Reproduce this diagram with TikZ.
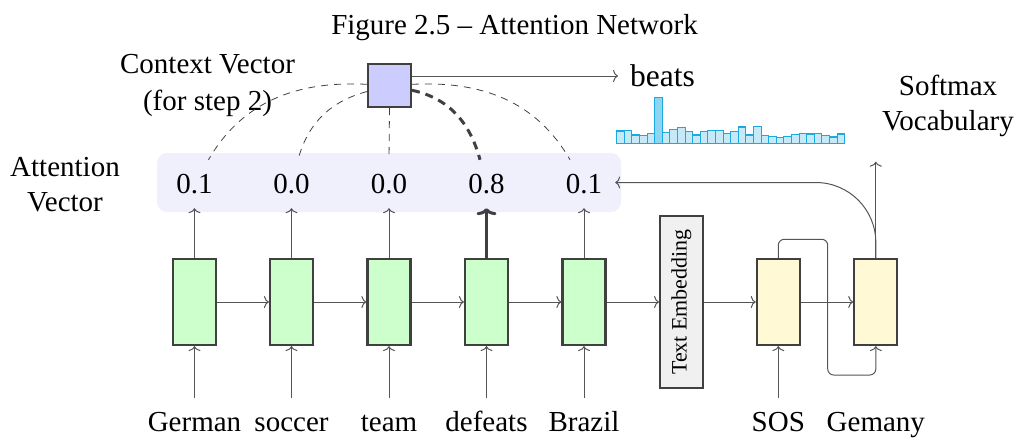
\documentclass[tikz,border=0pt]{standalone}
\usepackage{fontspec}
\usepackage{graphicx}
\setmainfont{Liberation Serif}
\usetikzlibrary{arrows.meta}

\definecolor{linegray}{HTML}{555555}
\definecolor{boxedge}{HTML}{404040}
\definecolor{encgreen}{HTML}{CCFFCC}
\definecolor{decyellow}{HTML}{FFF9D6}
\definecolor{ctxblue}{HTML}{CCCCFF}
\definecolor{attnbg}{HTML}{F0F0FD}
\definecolor{embgray}{HTML}{F0F0F0}
\definecolor{barline}{HTML}{1CA9E1}
\definecolor{barfill}{HTML}{C6E9F8}
\definecolor{barpeak}{HTML}{8ED5F2}

\begin{document}
\begin{tikzpicture}[x=1pt, y=-1pt,
  font=\fontsize{29}{34}\selectfont, inner sep=2pt,
  arr/.style={draw=linegray, line width=1pt, -{To[length=5pt,width=12pt]}},
  thickarr/.style={draw=boxedge, line width=3pt, -{To[length=7pt,width=20pt]}},
  cell/.style={draw=boxedge, line width=2.2pt, minimum width=43pt, minimum height=86pt, inner sep=0pt},
  enc/.style={cell, fill=encgreen},
  dec/.style={cell, fill=decyellow},
  word/.style={anchor=base, text height=20pt, text depth=6pt, inner ysep=13pt},
  weight/.style={minimum height=48pt, minimum width=40pt, inner sep=0pt},
  label/.style={anchor=base},
  align link/.style={draw=boxedge, line width=0.8pt, dash pattern=on 7pt off 6pt},
  strong link/.style={draw=boxedge, line width=3pt, dash pattern=on 8pt off 6pt},
  bar/.style={draw=barline, line width=1.1pt, fill=barfill}
]
\useasboundingbox (0,0) rectangle (1016,437);

% caption
\node[label] (title) at (514.5,34) {Figure 2.5 -- Attention Network};

% attention weight panel
\node[fill=attnbg, rounded corners=10pt, minimum width=464pt, minimum height=59pt] (attnbox) at (389,182.5) {};

% encoder cells
\node[enc] (g1) at (194.5,302) {};
\node[enc] (g2) at (291.5,302) {};
\node[enc] (g3) at (389,302) {};
\node[enc] (g4) at (486.5,302) {};
\node[enc] (g5) at (584,302) {};

% embedding block
\node[draw=boxedge, line width=1.5pt, fill=embgray, minimum width=43pt, minimum height=172pt, inner sep=0pt] (te) at (681.3,302)
  {\rotatebox{90}{\fontsize{22}{26}\selectfont Text Embedding}};

% decoder cells
\node[dec] (sos) at (778.3,302) {};
\node[dec] (gem) at (875.8,302) {};

% input words
\node[word] (w1) at (194.5,431) {German};
\node[word] (w2) at (291.5,431) {soccer};
\node[word] (w3) at (389,431) {team};
\node[word] (w4) at (486.5,431) {defeats};
\node[word] (w5) at (584,431) {Brazil};
\node[word] (w6) at (778.3,431) {SOS};
\node[word] (w7) at (875.8,431) {Gemany};

% attention weights
\node[weight] (a1) at (194.5,184) {0.1};
\node[weight] (a2) at (291.5,184) {0.0};
\node[weight] (a3) at (389,184) {0.0};
\node[weight] (a4) at (486.5,184) {0.8};
\node[weight] (a5) at (584,184) {0.1};

% context vector
\node[draw=boxedge, line width=2pt, fill=ctxblue, minimum size=43pt, inner sep=0pt] (ctx) at (389.5,85.5) {};

% side labels
\node[label] (cl1) at (207.5,73) {Context Vector};
\node[label] (cl2) at (207.5,110.7) {(for step 2)};
\node[label] (al1) at (65,176) {Attention};
\node[label] (al2) at (65,211.7) {Vector};
\node[label] (sl1) at (948,95) {Softmax};
\node[label] (sl2) at (948,130) {Vocabulary};

% predicted word
\node[anchor=west, inner xsep=12pt, font=\fontsize{31.5}{36}\selectfont] (beats) at (618,76) {beats};

% output distribution
\foreach \h [count=\i from 0] in {12.3,13,8.3,7.7,10,45.7,11,14,15.7,11.7,8.3,12,13,13,10,12,16.3,8.3,17,8,6.7,6,6.7,9,9.7,9.3,10,8,6.3,9.3} {
  \draw[bar] (616.7+\i*7.6,143.3) rectangle ++(7.6,-\h);
}
\draw[bar, fill=barpeak] (616.7+5*7.6,143.3) rectangle ++(7.6,-45.7);

% input connections
\foreach \i in {1,...,5} {
  \draw[arr] (w\i.north) -- (g\i.south);
}
\draw[arr] (w6.north) -- (sos.south);

% recurrent connections
\draw[arr] (g1.east) -- (g2.west);
\draw[arr] (g2.east) -- (g3.west);
\draw[arr] (g3.east) -- (g4.west);
\draw[arr] (g4.east) -- (g5.west);
\draw[arr] (g5.east) -- (te.west);
\draw[arr] (te.east) -- (sos.west);
\draw[arr] (sos.east) -- (gem.west);

% teacher forcing loop
\draw[arr, rounded corners=6pt] (sos.north) |- (827.7,239.3) -- (827.7,375) -| (gem.south);

% encoder states to weights
\draw[arr] (g1.north) -- (a1.south);
\draw[arr] (g2.north) -- (a2.south);
\draw[arr] (g3.north) -- (a3.south);
\draw[thickarr] (g4.north) -- (a4.south);
\draw[arr] (g5.north) -- (a5.south);

% weighted sum into context vector
\draw[align link] (ctx) to[out=177, in=60] (a1);
\draw[align link] (ctx) to[out=195, in=75] (a2);
\draw[align link] (ctx.south) -- (a3.north);
\draw[strong link] (ctx) to[out=-12, in=105] (a4);
\draw[align link] (ctx) to[out=3, in=120] (a5);

% context to prediction
\draw[arr] (ctx.east |- beats.west) -- (beats.west);

% decoder outputs
\coordinate (smx) at (875.8,161.7);
\draw[arr] (gem.north) -- (smx);
\draw[arr, rounded corners=60pt] (gem.north) |- ([xshift=-6pt]attnbox.east);
\end{tikzpicture}
\end{document}
